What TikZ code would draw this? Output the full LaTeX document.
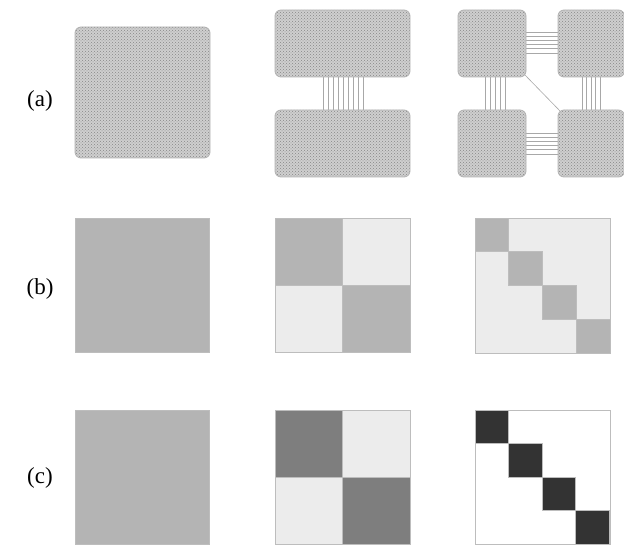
\documentclass[tikz,border=0pt]{standalone}
\usepackage{fontspec}
\setmainfont{Liberation Serif}
\usetikzlibrary{patterns}
\definecolor{midg}{HTML}{B4B4B4}
\definecolor{lightg}{HTML}{ECECEC}
\definecolor{darkg}{HTML}{7E7E7E}
\definecolor{blk}{HTML}{333333}
\definecolor{edgeg}{HTML}{BDBDBD}
\definecolor{wireg}{HTML}{A8A8A8}
\tikzset{
  chip/.style={draw=gray!60, line width=0.8pt, rounded corners=6pt,
    preaction={fill=gray!38}, pattern=crosshatch dots, pattern color=gray!95},
  wire/.style={draw=wireg, line width=0.6pt},
  cell/.style={draw=edgeg, line width=0.7pt},
  lbl/.style={font=\fontsize{23}{26}\selectfont, inner sep=0pt}
}
\begin{document}
\begin{tikzpicture}[x=1pt,y=-1pt]
\useasboundingbox (0,0) rectangle (624,545);
% labels
\node[lbl] (la) at (40,101) {(a)};
\node[lbl] (lb) at (40,289) {(b)};
\node[lbl] (lc) at (40,478) {(c)};
% ---- row a ----
\path[chip] (75,27) rectangle (210,158);
% panel 2
\foreach \i in {0,...,8}{
  \draw[wire] (323+\i*5,76) -- (323+\i*5,111);
}
\path[chip] (275,10) rectangle (410,77);
\path[chip] (275,110) rectangle (410,177);
% panel 3
\foreach \i in {0,...,5}{
  \draw[wire] (525,32+\i*4.2) -- (559,32+\i*4.2);
  \draw[wire] (525,133+\i*4.2) -- (559,133+\i*4.2);
}
\foreach \i in {0,...,4}{
  \draw[wire] (485+\i*5,76) -- (485+\i*5,111);
  \draw[wire] (582+\i*4.5,76) -- (582+\i*4.5,111);
}
\draw[wire] (524,74) -- (561,112);
\path[chip] (458,10) rectangle (526,77);
\path[chip] (558,10) rectangle (624.5,77);
\path[chip] (458,110) rectangle (526,177);
\path[chip] (558,110) rectangle (624.5,177);
% ---- row b ----
\path[cell, fill=midg] (75,218) rectangle (209,352);
\path[cell, fill=lightg] (275,218) rectangle (410,352);
\path[cell, fill=midg] (275,218) rectangle (342.5,285);
\path[cell, fill=midg] (342.5,285) rectangle (410,352);
\path[cell, fill=lightg] (475,218) rectangle (610,353);
\foreach \i in {0,...,3}{
  \path[cell, fill=midg] (475+\i*33.75,218+\i*33.75) rectangle (475+\i*33.75+33.75,218+\i*33.75+33.75);
}
% ---- row c ----
\path[cell, fill=midg] (75,410) rectangle (209,544);
\path[cell, fill=lightg] (275,410) rectangle (410,544);
\path[cell, fill=darkg] (275,410) rectangle (342.5,477);
\path[cell, fill=darkg] (342.5,477) rectangle (410,544);
\path[cell, fill=white] (475,410) rectangle (610,544);
\foreach \i in {0,...,3}{
  \path[cell, fill=blk] (475+\i*33.5,410+\i*33.5) rectangle (475+\i*33.5+33.5,410+\i*33.5+33.5);
}
\end{tikzpicture}
\end{document}
